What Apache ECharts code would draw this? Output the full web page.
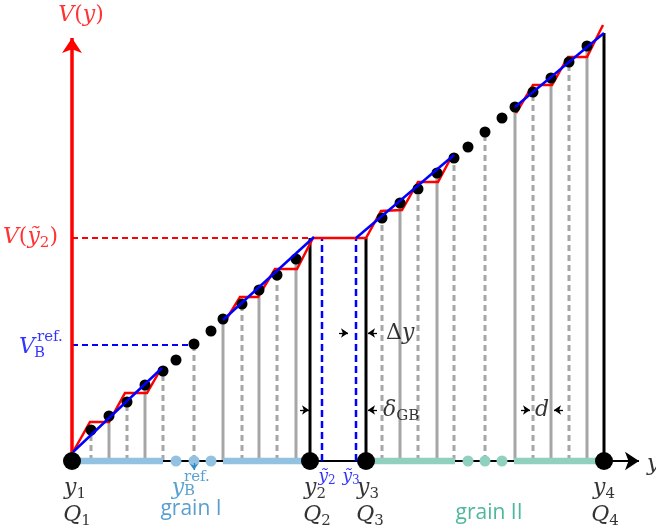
<!DOCTYPE html>
<html><head><meta charset="utf-8">
<script src="https://cdn.jsdelivr.net/npm/echarts@6/dist/echarts.min.js"></script>
<style>html,body{margin:0;padding:0;background:#fff}#c{width:656px;height:531px}</style>
</head><body><div id="c"></div><script>
// u = position along y (px-like units from y1), V = potential value
const grainIU = [19,37,55,73,91,104,122,139,151,170,187,205,224];
const grainIV = [31,45,59,76,90,101,117,130,142,157,171,186,202];
const grainIKind = ['dashed','solid','dashed','solid','dashed','none','dashed','none','solid','dashed','solid','dashed','solid'];
const grainIIU = [310,328,346,365,382,396,413,430,443,461,479,497,515];
const grainIIV = [243,258,272,288,303,314,329,343,354,369,383,399,415];
const grainIIKind = ['dashed','solid','dashed','solid','dashed','none','dashed','none','solid','dashed','solid','dashed','solid'];
const nodeU = [0,238,294,532];            // y1..y4
const nodeTopV = [0,223,223,428];
const tildeU = [250,284];                 // y~2, y~3
const VTilde2 = 223;
const VBref = 116, yBref = 122;
const redI_A = [[1,9],[18,39],[37,39],[53,68],[75,68],[90,94]];
const redI_B = [[152,138],[168,164],[186,164],[203,192],[225,192],[241,223],[294,223],[309,250],[330,251],[346,279],[366,279],[381,307]];
const redII_B = [[444,348],[461,376],[480,376],[496,404],[515,404],[531,436]];
const blueI_A = [[1,9],[90,93]];
const blueI_B = [[151,141],[242,224]];
const blueII_A = [[284,223],[382,306]];
const blueII_B = [[443,354],[532,428]];
const barI = [[0,91],[151,238]], dotsI = [104,122,139];
const barII = [[294,383],[442,532]], dotsII = [396,413,430];
const axisEndU = 571, VaxisTop = 429;

const serif = 'DejaVu Serif';
const rich = {
  v:{fontFamily:serif,fontStyle:'italic',fontSize:22,lineHeight:28},
  p:{fontFamily:serif,fontSize:22,lineHeight:28},
  s:{fontFamily:serif,fontSize:15,lineHeight:15,verticalAlign:'bottom'},
  t:{fontFamily:serif,fontSize:15},
  tv:{fontFamily:serif,fontStyle:'italic',fontSize:17,lineHeight:20},
  ts:{fontFamily:serif,fontSize:12,lineHeight:10,verticalAlign:'bottom'},
  g:{fontFamily:'Open Sans',fontSize:21}
};
const RED='#ff0000', BLUE='#0000ff', BLK='#000000', GRAY='#a6a6a6';
const C1='#92c1e2', C2='#8fd1be', T1='#2e86c4', T2='#22a585', TB='#2f8ac4';
const labels = [
  {t:'{v|V}{p|(}{v|y}{p|)}', u:9, V:446, c:RED},
  {t:'{v|V}{p|(}{v|ỹ}{s|2}{p|)}', u:-14, V:224, c:RED, a:'right'},
  {t:'{v|V}', u:-45, V:114, c:BLUE},
  {t:'{t|ref.}', u:-35, V:124, c:BLUE, a:'left'},
  {t:'{t|B}', u:-38, V:108, c:BLUE, a:'left'},
  {t:'{v|y}', u:106, V:-27, c:TB},
  {t:'{t|ref.}', u:112, V:-16, c:TB, a:'left'},
  {t:'{t|B}', u:112, V:-30, c:TB, a:'left'},
  {t:'{g|grain I}', u:119, V:-48, c:T1},
  {t:'{g|grain II}', u:417, V:-52, c:T2},
  {t:'{v|y}{s|1}', u:3, V:-27, c:BLK},
  {t:'{v|Q}{s|1}', u:5, V:-54, c:BLK},
  {t:'{v|y}{s|2}', u:243, V:-27, c:BLK},
  {t:'{v|Q}{s|2}', u:245, V:-54, c:BLK},
  {t:'{v|y}{s|3}', u:296, V:-27, c:BLK},
  {t:'{v|Q}{s|3}', u:298, V:-54, c:BLK},
  {t:'{v|y}{s|4}', u:532, V:-27, c:BLK},
  {t:'{v|Q}{s|4}', u:533, V:-54, c:BLK},
  {t:'{tv|ỹ}{ts|2}', u:255, V:-16, c:BLUE},
  {t:'{tv|ỹ}{ts|3}', u:279, V:-16, c:BLUE},
  {t:'{v|y}', u:575, V:-3, c:BLK, a:'left'},
  {t:'{p|Δ}{v|y}', u:314, V:128, c:BLK, a:'left'},
  {t:'{v|δ}{s|GB}', u:311, V:51, c:BLK, a:'left'},
  {t:'{v|d}', u:470, V:51, c:BLK}
];
const smallArrows = [
  [[267,128],[276,128]], [[305,128],[296,128]],
  [[228,51],[237,51]], [[305,51],[296,51]],
  [[449,51],[458,51]], [[491,51],[482,51]]
];

function lines(paths, style, z, extra){
  return Object.assign({type:'lines',coordinateSystem:'cartesian2d',polyline:true,silent:true,z:z,
    symbol:'none',animation:false,lineStyle:Object.assign({opacity:1,curveness:0},style),
    data:paths.map(p=>({coords:p}))}, extra||{});
}
function verticals(U,V,K,k){const o=[];U.forEach((u,i)=>{if(K[i]===k)o.push([[u,0],[u,V[i]]]);});return o;}

const series = [
  lines(verticals(grainIU,grainIV,grainIKind,'solid').concat(verticals(grainIIU,grainIIV,grainIIKind,'solid')),{color:GRAY,width:3},1),
  lines(verticals(grainIU,grainIV,grainIKind,'dashed').concat(verticals(grainIIU,grainIIV,grainIIKind,'dashed')),{color:GRAY,width:3,type:[6,4]},1),
  lines([[[0,0],[axisEndU-4,0]]],{color:BLK,width:2},2,{polyline:false,symbol:['none','arrow'],symbolSize:[12,14]}),
  lines(barI.map(b=>[[b[0],0],[b[1],0]]),{color:C1,width:6.5},3),
  lines(barII.map(b=>[[b[0],0],[b[1],0]]),{color:C2,width:6.5},3),
  lines(nodeU.slice(1).map((u,i)=>[[u,0],[u,nodeTopV[i+1]]]),{color:BLK,width:3},3),
  lines(tildeU.map(u=>[[u,0],[u,VTilde2]]),{color:BLUE,width:2.5,type:[7,4]},3),
  lines([[[0,VTilde2],[241,VTilde2]]],{color:RED,width:2,type:[6,4]},3),
  lines([[[0,VBref],[yBref,VBref]]],{color:BLUE,width:2,type:[6,4]},3),
  lines([[[0,0],[0,VaxisTop-6]]],{color:RED,width:3.5},4,{polyline:false,symbol:['none','arrow'],symbolSize:[16,15]}),
  lines([redI_A,redI_B,redII_B],{color:RED,width:2.5},5),
  {type:'scatter',symbol:'circle',symbolSize:11,z:4,silent:true,animation:false,itemStyle:{color:C1,opacity:1},data:dotsI.map(u=>[u,0])},
  {type:'scatter',symbol:'circle',symbolSize:11,z:4,silent:true,animation:false,itemStyle:{color:C2,opacity:1},data:dotsII.map(u=>[u,0])},
  {type:'scatter',symbol:'circle',symbolSize:11,z:6,silent:true,animation:false,itemStyle:{color:BLK,opacity:1},
    data:grainIU.map((u,i)=>[u,grainIV[i]]).concat(grainIIU.map((u,i)=>[u,grainIIV[i]]))},
  lines([blueI_A,blueI_B,blueII_A,blueII_B],{color:BLUE,width:2.5},7),
  {type:'scatter',symbol:'circle',symbolSize:18,z:8,silent:true,animation:false,itemStyle:{color:BLK,opacity:1},data:nodeU.map(u=>[u,0])},
  lines(smallArrows,{color:BLK,width:1.3},8,{polyline:false,symbol:['none','arrow'],symbolSize:[7,7]}),
  lines([[[yBref,-2],[yBref,-9]]],{color:TB,width:1.3},8,{polyline:false,symbol:['none','arrow'],symbolSize:[6,6]}),
  {type:'scatter',symbol:'circle',symbolSize:1,z:10,silent:true,animation:false,itemStyle:{color:'rgba(0,0,0,0)'},
    data:labels.map(l=>({value:[l.u,l.V],label:{show:true,position:'inside',formatter:l.t,color:l.c,align:l.a||'center',verticalAlign:'middle',rich:rich}}))}
];

const chart = echarts.init(document.getElementById('c'),null,{renderer:'canvas'});
chart.setOption({
  animation:false,
  backgroundColor:'#ffffff',
  grid:{left:0,right:0,top:0,bottom:0},
  xAxis:{type:'value',min:-72,max:584,show:false},
  yAxis:{type:'value',min:-70,max:461,show:false},
  series:series
});
</script></body></html>
